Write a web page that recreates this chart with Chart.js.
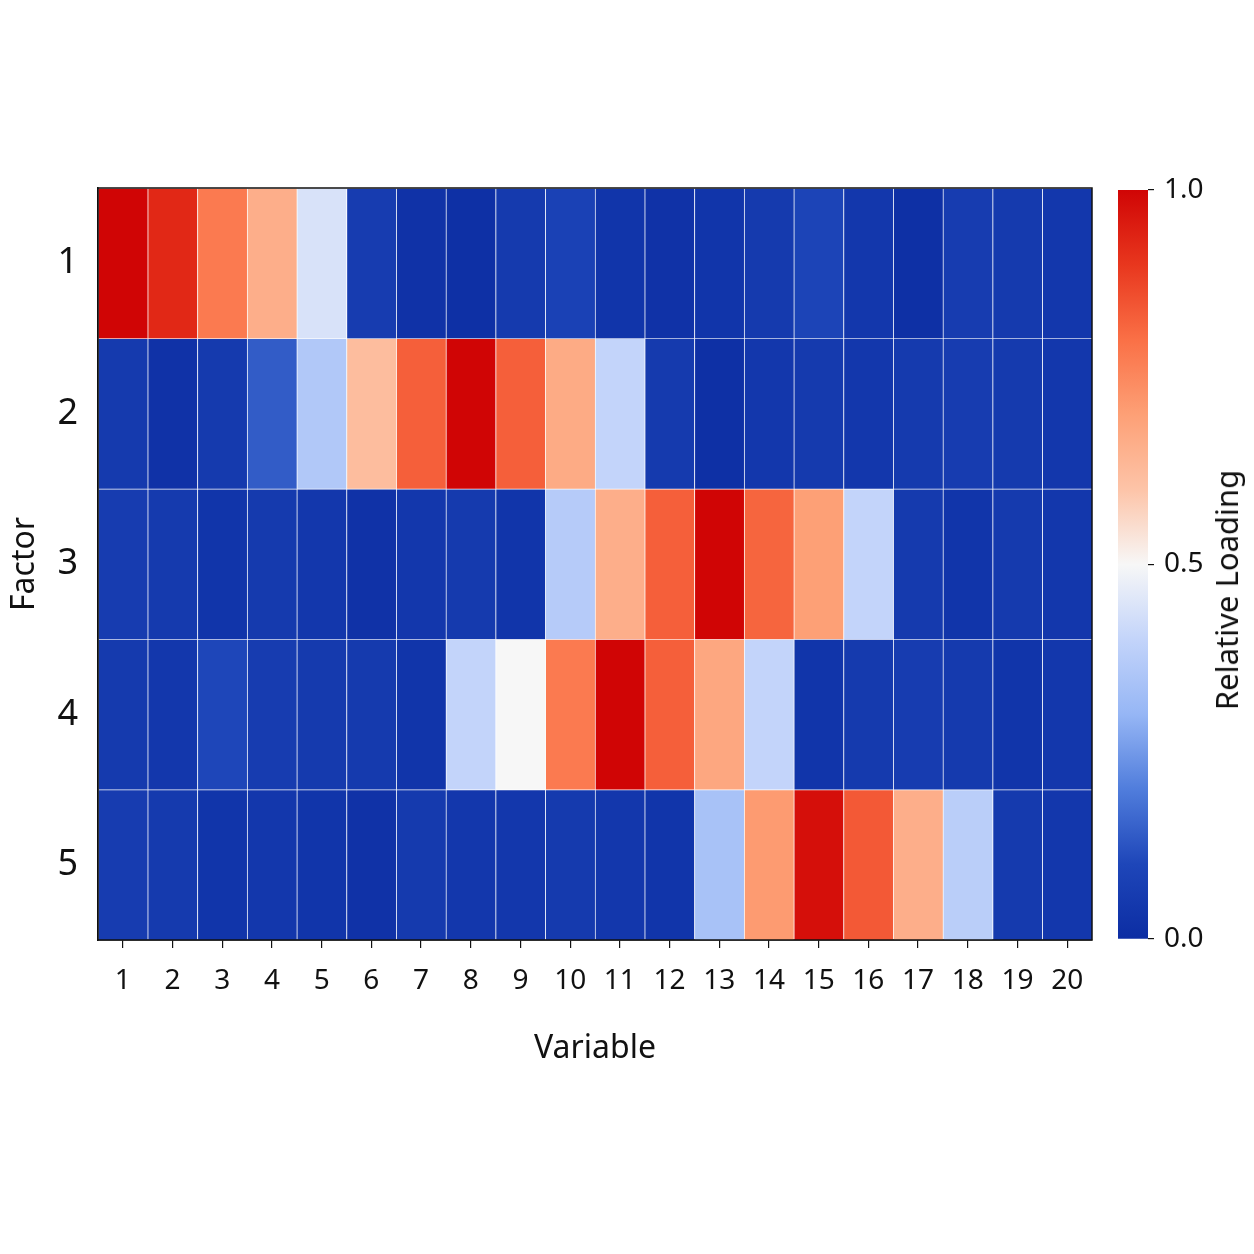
<!DOCTYPE html>
<html><head><meta charset="utf-8">
<script src="https://cdn.jsdelivr.net/npm/chart.js@4.4.1/dist/chart.umd.min.js"></script>
<style>
html,body{margin:0;padding:0;background:#fff;}
#wrap{position:relative;width:1254px;height:1254px;overflow:hidden;}
#c1{position:absolute;left:0;top:0;}
#c2{position:absolute;left:1100px;top:0;}
#cbTitle{position:absolute;left:1226px;top:590px;transform:translate(-50%,-50%) rotate(-90deg);font-family:"Noto Sans";font-size:31px;white-space:nowrap;color:#111;}
</style></head>
<body><div id="wrap">
<canvas id="c1" width="1254" height="1254"></canvas>
<canvas id="c2" width="154" height="1254"></canvas>
<div id="cbTitle">Relative Loading</div>
</div>
<script>
const variables = ['1','2','3','4','5','6','7','8','9','10','11','12','13','14','15','16','17','18','19','20'];
const factors = [1, 2, 3, 4, 5];
const factor1 = [1.00,0.93,0.78,0.66,0.44,0.06,0.02,0.01,0.05,0.08,0.03,0.02,0.03,0.05,0.09,0.04,0.01,0.06,0.05,0.04];
const factor2 = [0.05,0.02,0.05,0.14,0.36,0.62,0.83,1.00,0.83,0.67,0.40,0.05,0.01,0.04,0.05,0.04,0.05,0.06,0.05,0.04];
const factor3 = [0.06,0.05,0.03,0.05,0.04,0.02,0.04,0.05,0.03,0.37,0.66,0.83,1.00,0.82,0.70,0.40,0.05,0.03,0.05,0.04];
const factor4 = [0.05,0.04,0.10,0.06,0.05,0.05,0.03,0.40,0.50,0.78,1.00,0.83,0.68,0.40,0.03,0.05,0.06,0.05,0.03,0.04];
const factor5 = [0.06,0.05,0.03,0.04,0.03,0.02,0.05,0.04,0.04,0.05,0.04,0.03,0.34,0.71,0.98,0.84,0.66,0.38,0.05,0.04];
const loadings = [factor1, factor2, factor3, factor4, factor5];
const colorbarTicks = [0, 0.5, 1];

// colormap stops: [value, r, g, b]
const cmap = [
  [0.00, 12, 45, 163],
  [0.10, 30, 70, 185],
  [0.20, 80, 125, 220],
  [0.30, 150, 182, 245],
  [0.40, 195, 212, 250],
  [0.50, 247, 247, 247],
  [0.60, 253, 196, 168],
  [0.70, 253, 160, 118],
  [0.80, 250, 112, 70],
  [0.90, 232, 55, 30],
  [1.00, 208, 5, 5]
];
function colorFor(v) {
  v = Math.max(0, Math.min(1, v));
  for (let i = 1; i < cmap.length; i++) {
    if (v <= cmap[i][0]) {
      const a = cmap[i-1], b = cmap[i];
      const t = (v - a[0]) / (b[0] - a[0]);
      const c = [1,2,3].map(k => Math.round(a[k] + (b[k]-a[k])*t));
      return `rgb(${c[0]},${c[1]},${c[2]})`;
    }
  }
  return 'rgb(208,5,5)';
}

const FONT = '"Noto Sans", "DejaVu Sans", sans-serif';
const frame = {
  id: 'frame',
  afterDatasetsDraw(chart) {
    const {ctx, chartArea: a} = chart;
    ctx.save();
    ctx.strokeStyle = '#111';
    ctx.lineWidth = 1.5;
    ctx.strokeRect(a.left, a.top, a.right - a.left, a.bottom - a.top);
    ctx.restore();
  }
};

const datasets = factors.map((f, r) => ({
  label: 'Factor ' + f,
  data: loadings[r].map(() => [f - 0.5, f + 0.5]),
  backgroundColor: loadings[r].map(colorFor),
  borderColor: 'rgba(255,255,255,0.5)',
  borderWidth: {top: 1, bottom: 0, left: 1, right: 0},
  borderSkipped: false,
  barPercentage: 1,
  categoryPercentage: 1,
  grouped: false
}));

new Chart(document.getElementById('c1'), {
  type: 'bar',
  data: { labels: variables, datasets },
  plugins: [frame],
  options: {
    responsive: false,
    animation: false,
    layout: { padding: { top: 188, right: 162, bottom: 134, left: 0 } },
    plugins: { legend: { display: false }, tooltip: { enabled: false } },
    scales: {
      x: {
        type: 'category',
        afterFit(s) { s.height = 180; },
        grid: { display: true, drawOnChartArea: false, drawTicks: true, tickLength: 8, color: '#111', lineWidth: 1.2, offset: false },
        border: { display: true, color: '#111', width: 1.5 },
        ticks: { color: '#111', font: { family: FONT, size: 28 }, padding: 16, maxRotation: 0, autoSkip: false },
        title: { display: true, text: 'Variable', color: '#111', font: { family: FONT, size: 32 }, padding: { top: 0, bottom: 52 } }
      },
      y: {
        type: 'linear',
        min: 0.5, max: 5.5, reverse: true,
        afterFit(s) { s.width = 98; },
        afterBuildTicks(s) { s.ticks = factors.map(v => ({ value: v })); },
        grid: { display: false, drawTicks: false },
        border: { display: true, color: '#111', width: 1.5 },
        ticks: { color: '#111', font: { family: FONT, size: 36 }, padding: 20, callback: v => String(v) },
        title: { display: true, text: 'Factor', color: '#111', font: { family: FONT, size: 32 }, padding: { top: 6, bottom: 0 } }
      }
    }
  }
});

// colorbar
new Chart(document.getElementById('c2'), {
  type: 'bar',
  data: {
    labels: ['Relative Loading'],
    datasets: [{
      data: [[colorbarTicks[0], colorbarTicks[colorbarTicks.length - 1]]],
      backgroundColor(ctx) {
        const chart = ctx.chart;
        if (!chart.chartArea) return 'rgba(0,0,0,0)';
        const ys = chart.scales.y;
        const g = chart.ctx.createLinearGradient(0, ys.getPixelForValue(0), 0, ys.getPixelForValue(1));
        cmap.forEach(s => g.addColorStop(s[0], `rgb(${s[1]},${s[2]},${s[3]})`));
        return g;
      },
      borderWidth: 0,
      barPercentage: 1,
      categoryPercentage: 1
    }]
  },
  options: {
    responsive: false,
    animation: false,
    layout: { padding: { top: 190, right: 0, bottom: 315, left: 18 } },
    plugins: { legend: { display: false }, tooltip: { enabled: false } },
    scales: {
      x: { display: false },
      y: {
        position: 'right',
        min: 0, max: 1,
        afterFit(s) { s.width = 106; },
        afterBuildTicks(s) { s.ticks = colorbarTicks.map(v => ({ value: v })); },
        grid: { display: true, drawOnChartArea: false, drawTicks: true, tickLength: 6, color: '#111', lineWidth: 1.2 },
        border: { display: false },
        ticks: { color: '#111', font: { family: FONT, size: 28 }, padding: 10, callback: v => Number(v).toFixed(1) }
      }
    }
  }
});
</script>
</body></html>
